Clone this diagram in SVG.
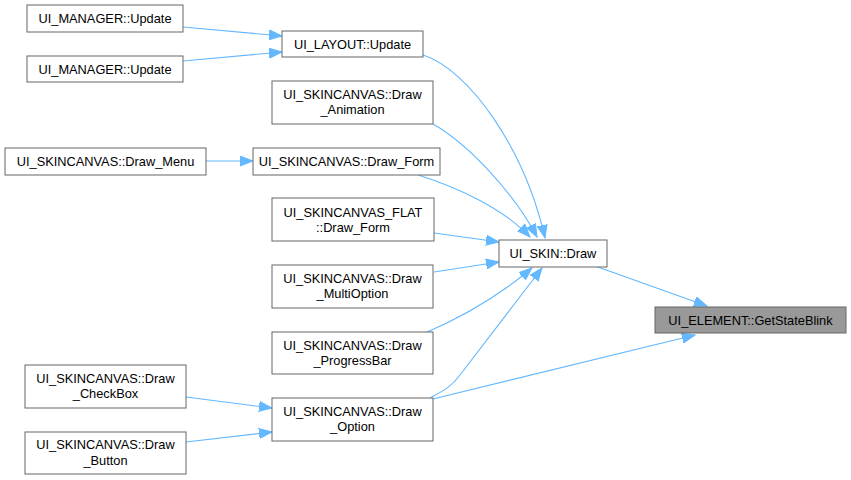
<svg xmlns="http://www.w3.org/2000/svg" width="851" height="480" viewBox="0 0 851 480">
<style>
.n rect{fill:#ffffff;stroke:#666666;stroke-width:1}
.hl rect{fill:#999999;stroke:#666666;stroke-width:1}
text{font-family:"Liberation Sans",Arial,sans-serif;font-size:12.8px;fill:#000000;text-anchor:middle}
.e path{fill:none;stroke:#63b8ff;stroke-width:1.1;marker-end:url(#ah)}
</style>
<defs>
<marker id="ah" markerUnits="userSpaceOnUse" markerWidth="14" markerHeight="11" viewBox="0 0 14 11" refX="13" refY="5.5" orient="auto">
<path d="M0,0.5 L13,5.5 L0,10.5 z" fill="#63b8ff" stroke="#63b8ff" stroke-width="1"/>
</marker>
</defs>
<rect x="0" y="0" width="851" height="480" fill="#ffffff"/>
<g class="e" id="edges">
<path d="M183,27 L282,36"/>
<path d="M183,61 L282,52"/>
<path d="M423,55 C470,70 525,150 545,238"/>
<path d="M433,124 C470,145 515,195 537,237"/>
<path d="M418,175 C460,188 505,210 530,237"/>
<path d="M434,233 L499,242"/>
<path d="M434,272 L499,262"/>
<path d="M425,333 C460,318 500,295 532,268"/>
<path d="M430,398 C445,390 452,386 460,375 L542,268"/>
<path d="M433,399 L695,335"/>
<path d="M595,266 L707,306"/>
<path d="M206,161 L253,161"/>
<path d="M186,397 L272,408"/>
<path d="M186,442 L272,432"/>
</g>
<g class="n" id="n_mgr1"><rect x="27" y="5" width="156" height="27"/><text x="105" y="23">UI_MANAGER::Update</text></g>
<g class="n" id="n_mgr2"><rect x="27" y="56" width="156" height="26"/><text x="105" y="74">UI_MANAGER::Update</text></g>
<g class="n" id="n_layout"><rect x="282" y="31" width="141" height="26"/><text x="352.5" y="49">UI_LAYOUT::Update</text></g>
<g class="n" id="n_anim"><rect x="272" y="81" width="161" height="43"/><text x="352.5" y="99">UI_SKINCANVAS::Draw</text><text x="352.5" y="114">_Animation</text></g>
<g class="n" id="n_menu"><rect x="5" y="148" width="201" height="27"/><text x="105.5" y="166">UI_SKINCANVAS::Draw_Menu</text></g>
<g class="n" id="n_form"><rect x="253" y="148" width="187" height="27"/><text x="346.5" y="166">UI_SKINCANVAS::Draw_Form</text></g>
<g class="n" id="n_flat"><rect x="272" y="198" width="162" height="43"/><text x="353" y="217">UI_SKINCANVAS_FLAT</text><text x="353" y="232">::Draw_Form</text></g>
<g class="n" id="n_multi"><rect x="272" y="265" width="161" height="43"/><text x="352.5" y="283">UI_SKINCANVAS::Draw</text><text x="352.5" y="298">_MultiOption</text></g>
<g class="n" id="n_progress"><rect x="272" y="332" width="161" height="42"/><text x="352.5" y="350">UI_SKINCANVAS::Draw</text><text x="352.5" y="365">_ProgressBar</text></g>
<g class="n" id="n_option"><rect x="272" y="398" width="161" height="43"/><text x="352.5" y="416">UI_SKINCANVAS::Draw</text><text x="352.5" y="431">_Option</text></g>
<g class="n" id="n_checkbox"><rect x="25" y="365" width="161" height="43"/><text x="105.5" y="383">UI_SKINCANVAS::Draw</text><text x="105.5" y="398">_CheckBox</text></g>
<g class="n" id="n_button"><rect x="25" y="432" width="161" height="42"/><text x="105.5" y="449">UI_SKINCANVAS::Draw</text><text x="105.5" y="465">_Button</text></g>
<g class="n" id="n_skin"><rect x="499" y="240" width="108" height="27"/><text x="553" y="258">UI_SKIN::Draw</text></g>
<g class="hl" id="n_blink"><rect x="655" y="307" width="191" height="26"/><text x="750.5" y="325">UI_ELEMENT::GetStateBlink</text></g>
</svg>
